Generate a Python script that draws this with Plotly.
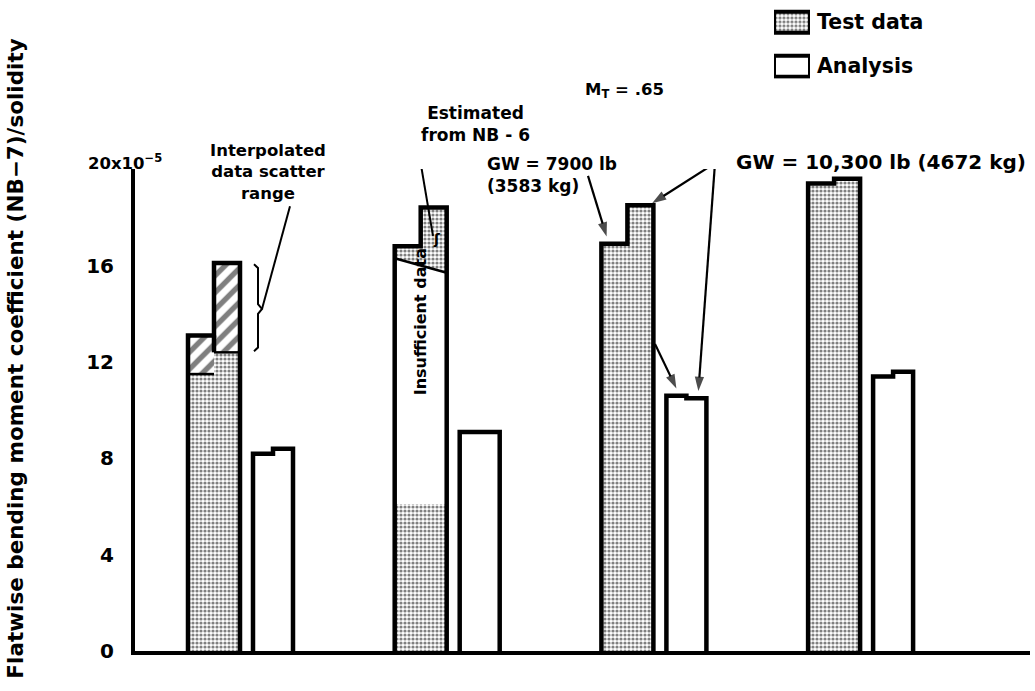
import plotly.graph_objects as go

# Flatwise bending moment coefficient (NB-7)/solidity, x10^-5, four flight cases.
# Each bar is split into the GW = 7900 lb half (left) and the GW = 10,300 lb half (right).
test_7900 = [13.1, 16.8, 16.9, 19.4]
test_10300 = [16.1, 18.4, 18.5, 19.6]
analysis_7900 = [8.2, 9.1, 10.6, 11.4]
analysis_10300 = [8.4, 9.1, 10.5, 11.6]

# Case 1: measured level below the interpolated data scatter range (7900, 10300)
scatter_floor = [11.5, 12.4]
# Case 2: measured portion, and lower edge of the band estimated from NB-6 (left, right)
measured_top = 6.1
nb6_floor = [16.3, 15.7]

y_tickvals = [0, 4, 8, 12, 16]
y_ticktext = ["<b>0</b>", "<b>4</b>", "<b>8</b>", "<b>12</b>", "<b>16</b>"]

W, H = 1035, 691
FONT = "DejaVu Sans"

# page-pixel helpers for layout placement
GROUP_PX = 206.7
X0_PX = 214.0
Y0_PX, Y20_PX = 663.0, 172.0


def xd(px):
    return (px - X0_PX) / GROUP_PX


def yd(py):
    return (Y0_PX - py) / (Y0_PX - Y20_PX) * 20.0


def xp(px):
    return px / W


def yp(py):
    return 1.0 - py / H


HALF_T = 26.0 / GROUP_PX      # width of one half of a test-data bar
HALF_A = 20.0 / GROUP_PX      # width of one half of an analysis bar
ANA_OFF = 59.0 / GROUP_PX     # analysis bar offset from test bar

cases = list(range(len(test_7900)))
t_left = [c - HALF_T / 2 for c in cases]
t_right = [c + HALF_T / 2 for c in cases]

STIPPLE = dict(shape=".", fgcolor="black", bgcolor="white", size=4, solidity=0.5)
HATCH = dict(shape="/", fgcolor="black", bgcolor="white", size=12, solidity=0.45)

fig = go.Figure()

# measured (stippled) part of the test bars
stip_l = [scatter_floor[0], measured_top] + test_7900[2:]
stip_r = [scatter_floor[1], measured_top] + test_10300[2:]
fig.add_trace(go.Bar(
    x=t_left + t_right, y=stip_l + stip_r, width=HALF_T,
    marker=dict(color="white", pattern=STIPPLE, line=dict(width=0)),
    showlegend=False, hoverinfo="skip"))

# interpolated data scatter range (hatched), case 1
fig.add_trace(go.Bar(
    x=[t_left[0], t_right[0]], base=scatter_floor,
    y=[test_7900[0] - scatter_floor[0], test_10300[0] - scatter_floor[1]],
    width=HALF_T,
    marker=dict(color="white", pattern=HATCH, line=dict(width=0)),
    showlegend=False, hoverinfo="skip"))

# band estimated from NB-6, case 2
c = cases[1]
fig.add_trace(go.Scatter(
    x=[c - HALF_T, c - HALF_T, c, c, c + HALF_T, c + HALF_T],
    y=[nb6_floor[0], test_7900[1], test_7900[1], test_10300[1], test_10300[1], nb6_floor[1]],
    fill="toself", fillcolor="white", fillpattern=STIPPLE,
    mode="none", showlegend=False, hoverinfo="skip"))


def step_outline(center, half, hl, hr):
    xs = [center - half, center - half, center, center, center + half, center + half, None]
    ys = [0, hl, hl, hr, hr, 0, None]
    return xs, ys


ox, oy = [], []
for i in cases:
    xs, ys = step_outline(i, HALF_T, test_7900[i], test_10300[i])
    ox += xs
    oy += ys
    xs, ys = step_outline(i + ANA_OFF, HALF_A, analysis_7900[i], analysis_10300[i])
    ox += xs
    oy += ys
# hatched boxes of case 1: middle divider down to the scatter floor
ox += [cases[0], cases[0], None]
oy += [test_7900[0], scatter_floor[1], None]
fig.add_trace(go.Scatter(x=ox, y=oy, mode="lines",
                         line=dict(color="black", width=4.5),
                         showlegend=False, hoverinfo="skip"))

thin_x = [cases[0] - HALF_T, cases[0], None, cases[0], cases[0] + HALF_T, None,
          cases[1] - HALF_T, cases[1] + HALF_T]
thin_y = [scatter_floor[0], scatter_floor[0], None, scatter_floor[1], scatter_floor[1], None,
          nb6_floor[0], nb6_floor[1]]
fig.add_trace(go.Scatter(x=thin_x, y=thin_y, mode="lines",
                         line=dict(color="black", width=2.5),
                         showlegend=False, hoverinfo="skip"))

# brace marking the scatter range, plus leader lines
bx = [xd(p) for p in (254, 258, 258, 262, 258, 258, 254)]
by = [test_10300[0] - 0.05, test_10300[0] - 0.2, 14.4, 14.2, 14.0, scatter_floor[1] + 0.2, scatter_floor[1] + 0.05]
lx = bx + [None, xd(262), xd(290), None, xd(418), xd(433), None, xd(715), xd(730)]
ly = by + [None, 14.2, yd(210), None, yd(150), yd(240), None, yd(166), yd(166)]
fig.add_trace(go.Scatter(x=lx, y=ly, mode="lines",
                         line=dict(color="black", width=2),
                         showlegend=False, hoverinfo="skip", cliponaxis=False))

# arrows from the gross-weight labels to the bars of case 3
g = cases[2]
arrow_segments = [
    ((588, 179), (g - HALF_T * 0.8, test_7900[g] + 0.3)),
    ((655, 350), (g + ANA_OFF - HALF_A * 0.5, analysis_7900[g] + 0.3)),
    ((715, 166), (g + HALF_T * 0.95, test_10300[g] + 0.08)),
    ((715, 166), (g + ANA_OFF + HALF_A * 0.6, analysis_10300[g] + 0.3)),
]
ax_, ay_, asz = [], [], []
for (tx, ty), (hx, hy) in arrow_segments:
    ax_ += [xd(tx), hx, None]
    ay_ += [yd(ty), hy, None]
    asz += [0, 15, 0]
fig.add_trace(go.Scatter(x=ax_, y=ay_, mode="lines+markers",
                         line=dict(color="black", width=2.2),
                         marker=dict(symbol="arrow", angleref="previous", size=asz,
                                     color="black", line=dict(width=0)),
                         showlegend=False, hoverinfo="skip", cliponaxis=False))

# legend swatches on their own small axes
fig.add_trace(go.Bar(x=[0], base=[12], y=[21], width=[1], xaxis="x2", yaxis="y2",
                     marker=dict(color="white", pattern=STIPPLE, line=dict(color="black", width=4)),
                     showlegend=False, hoverinfo="skip"))
fig.add_trace(go.Bar(x=[0], base=[57], y=[21], width=[1], xaxis="x2", yaxis="y2",
                     marker=dict(color="white", line=dict(color="black", width=4)),
                     showlegend=False, hoverinfo="skip"))

annotations = []


def text(s, x, y, size=18, xanchor="left", align="left", angle=0):
    annotations.append(dict(text="<b>" + s + "</b>", x=xp(x), y=yp(y), xref="paper", yref="paper",
                            xanchor=xanchor, yanchor="middle", align=align, showarrow=False,
                            textangle=angle, font=dict(family=FONT, size=size, color="black")))


text("Test data", 815, 22, 20.5)
text("Analysis", 815, 67, 20.5)
text("M<sub>T</sub> = .65", 583, 92, 16.5)
text("Estimated<br>from NB - 6", 475, 126, 17, "center", "center")
text("GW = 7900 lb<br>(3583 kg)", 485, 178, 17)
text("GW = 10,300 lb (4672 kg)", 734, 165, 20)
text("Interpolated<br>data scatter<br>range", 268, 175, 16.5, "center", "center")
text("20x10<sup>−5</sup>", 86, 165, 16.5)
text("Insufficient data", 420, 328, 16, "center", "center", -90)
text("ʃ", 437, 243, 14, "center", "center")
text("Flatwise bending moment coefficient (NB−7)/solidity", 16, 365, 21.5, "center", "center", -90)

fig.update_layout(
    width=W, height=H,
    margin=dict(l=0, r=0, t=0, b=0),
    paper_bgcolor="white", plot_bgcolor="white",
    barmode="overlay", bargap=0,
    showlegend=False,
    font=dict(family=FONT, color="black"),
    annotations=annotations,
    xaxis=dict(domain=[xp(135), xp(1030)], range=[xd(135), xd(1030)],
               showgrid=False, zeroline=False, showticklabels=False, ticks="",
               showline=True, linecolor="black", linewidth=4),
    yaxis=dict(domain=[yp(Y0_PX), yp(Y20_PX)], range=[0, 20],
               tickvals=y_tickvals, ticktext=y_ticktext,
               tickfont=dict(family=FONT, size=20, color="black"),
               showgrid=False, zeroline=False, ticks="", ticklabelstandoff=13,
               showline=True, linecolor="black", linewidth=4),
    xaxis2=dict(domain=[xp(774), xp(810)], range=[-0.5, 0.5], anchor="y2",
                visible=False, fixedrange=True),
    yaxis2=dict(domain=[yp(80), yp(8)], range=[80, 8], anchor="x2",
                visible=False, fixedrange=True),
)

fig.write_html("out.html")
